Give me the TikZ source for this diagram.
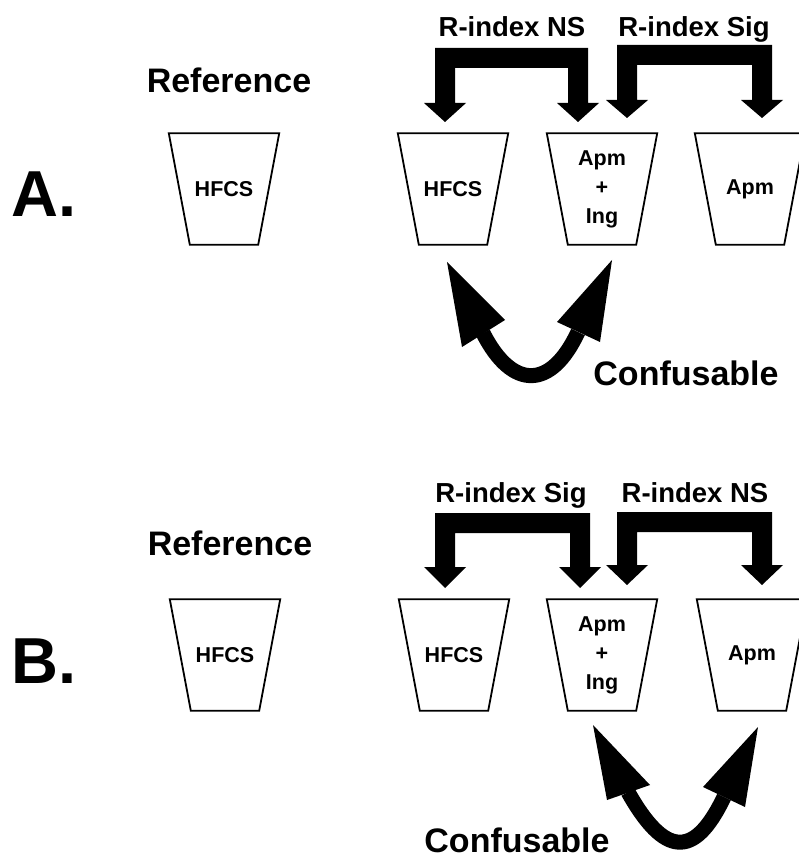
\documentclass[tikz,border=0pt]{standalone}
\usepackage{fontspec}
\setmainfont{Liberation Sans}
\usetikzlibrary{calc}

% Thick bracket arrow: outer left x, outer right x, top y, head base y, tip y
\newcommand\bracketarrow[5]{%
  \fill (#1,#3) -- (#2,#3) -- (#2,#4) -- ({#2+11},#4) -- ({#2-10},#5)
    -- ({#2-31},#4) -- ({#2-20},#4) -- ({#2-20},{#3+20}) -- ({#1+20},{#3+20})
    -- ({#1+20},#4) -- ({#1+31},#4) -- ({#1+10},#5) -- ({#1-11},#4)
    -- (#1,#4) -- cycle;}

% Cup: a labelled box with a tapered outline (wide rim, narrow base)
\newcommand\cupat[3]{%
  \node[cupbox] (#1) at #2 {#3};
  \draw[cupline] (#1.north west) -- (#1.north east)
    -- ([xshift=-21pt]#1.south east) -- ([xshift=21pt]#1.south west) -- cycle;}

\begin{document}
\begin{tikzpicture}[x=1pt,y=-1pt,
  cupbox/.style={minimum width=110pt, minimum height=111pt, inner sep=0pt,
    align=center, font=\bfseries\fontsize{21.5}{29}\selectfont},
  cupline/.style={line width=1.8pt, line join=miter},
  headtext/.style={inner sep=0pt, anchor=base,
    font=\bfseries\fontsize{27.5}{30}\selectfont},
  bigtext/.style={inner sep=0pt, anchor=base,
    font=\bfseries\fontsize{34}{36}\selectfont},
  paneltext/.style={inner sep=0pt, anchor=base west,
    font=\bfseries\fontsize{65}{70}\selectfont},
  shaft/.style={line width=15pt},
]
\useasboundingbox[fill=white] (0,0) rectangle (798,858);

% ---------------- Panel A ----------------
\node[paneltext] (labA) at (11,217) {A.};
\node[bigtext] (refA) at (229,93) {Reference};
\cupat{refcupA}{(224,189)}{HFCS}
\cupat{hfcsA}{(453,189)}{HFCS}
\cupat{mixA}{(602,189)}{Apm\\+\\Ing}
\cupat{apmA}{(750,189)}{Apm}

\node[headtext] (nsA) at (512,37) {R-index NS};
\node[headtext] (sigA) at (694,37) {R-index Sig};
\bracketarrow{435}{588}{48}{103}{122}
\bracketarrow{617}{772}{45}{100}{118}

% two-headed curved arrow between HFCS and Apm+Ing
\coordinate (confAl) at (483,333);
\coordinate (confAr) at (578,332);
\draw[shaft] (confAl) .. controls (512,390) and (551,390) .. (confAr);
\fill (447,262) -- (462,347) -- (505,320) -- cycle;
\fill (612,260) -- (557,322) -- (600,342) -- cycle;
\node[bigtext] (confA) at (686,385) {Confusable};

% ---------------- Panel B ----------------
\node[paneltext] (labB) at (11,683) {B.};
\node[bigtext] (refB) at (230,555) {Reference};
\cupat{refcupB}{(225,655)}{HFCS}
\cupat{hfcsB}{(454,655)}{HFCS}
\cupat{mixB}{(602,655)}{Apm\\+\\Ing}
\cupat{apmB}{(752,655)}{Apm}

\node[headtext] (sigB) at (511,502) {R-index Sig};
\node[headtext] (nsB) at (695,502) {R-index NS};
\bracketarrow{435}{590}{513}{567}{588}
\bracketarrow{617}{772}{512}{565}{585}

% two-headed curved arrow between Apm+Ing and Apm
\coordinate (confBl) at (628,792);
\coordinate (confBr) at (724,797);
\draw[shaft] (confBl) .. controls (664,856) and (694,860) .. (confBr);
\fill (593,725) -- (607,800) -- (650,785) -- cycle;
\fill (758,727) -- (703,787) -- (745,807) -- cycle;
\node[bigtext] (confB) at (517,852) {Confusable};
\end{tikzpicture}
\end{document}
